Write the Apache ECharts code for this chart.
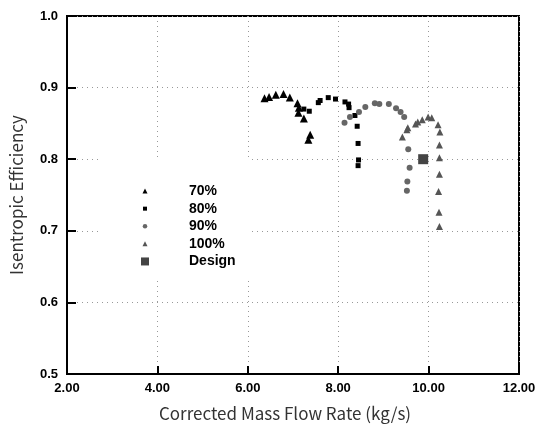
<!DOCTYPE html>
<html lang="en">

<head>
  <script src="https://cdn.jsdelivr.net/npm/echarts@6.0.0/dist/echarts.min.js"></script>
</head>

<body style="margin:0">
  <div id="efficiencyChart" style="width: 538px;height:427px;"></div>

  <script type="text/javascript">

    // speed lines
    var speed70X = [6.37, 6.47, 6.62, 6.79, 6.93, 7.10, 7.13, 7.12, 7.24, 7.38, 7.34];
    var speed70Y = [0.885, 0.887, 0.890, 0.891, 0.886, 0.878, 0.872, 0.865, 0.857, 0.834, 0.827];

    var speed80X = [7.24, 7.36, 7.56, 7.60, 7.78, 7.94, 8.15, 8.23, 8.24, 8.37, 8.42, 8.44, 8.45, 8.44];
    var speed80Y = [0.870, 0.867, 0.879, 0.882, 0.886, 0.884, 0.880, 0.877, 0.872, 0.861, 0.846, 0.822, 0.799, 0.791];

    var speed90X = [8.14, 8.26, 8.46, 8.60, 8.81, 8.91, 9.12, 9.28, 9.38, 9.46, 9.55, 9.58, 9.53, 9.52];
    var speed90Y = [0.851, 0.859, 0.866, 0.873, 0.878, 0.877, 0.877, 0.871, 0.866, 0.859, 0.814, 0.788, 0.769, 0.756];

    var speed100X = [9.42, 9.52, 9.54, 9.71, 9.76, 9.86, 9.99, 10.07, 10.21, 10.25, 10.24, 10.24, 10.24, 10.22, 10.23, 10.24];
    var speed100Y = [0.831, 0.841, 0.844, 0.849, 0.852, 0.855, 0.859, 0.858, 0.848, 0.838, 0.820, 0.802, 0.779, 0.755, 0.726, 0.706];

    var designX = [9.88];
    var designY = [0.800];

    var seriesNames = ['70%', '80%', '90%', '100%', 'Design'];

    function zipPoints(xs, ys) {
        var pts = [];
        for (var i = 0; i < xs.length; i++) {
            pts.push([xs[i], ys[i]]);
        }
        return pts;
    }

    function legendRow(name, icon, size, center) {
        return {
            data: [{ name: name, icon: icon }],
            selectedMode: false,
            orient: 'vertical',
            z: 10,
            left: 145 - size / 2,
            top: center - 7,
            padding: 0,
            itemWidth: size,
            itemHeight: size,
            textStyle: {
                fontFamily: 'Liberation Sans',
                fontWeight: 'bold',
                fontSize: 14,
                color: '#000',
                padding: [0, 0, 0, 189 - (145 + size / 2) - 5]
            }
        };
    }

    function createEfficiencyChart() {
        const chart = echarts.init(document.getElementById('efficiencyChart'));

        var labelFont = {
            fontFamily: 'Liberation Sans',
            fontWeight: 'bold',
            fontSize: 13,
            color: '#000'
        };
        var nameFont = {
            fontFamily: 'Noto Sans CJK KR',
            fontSize: 17,
            color: '#333'
        };

        var option = {
            animation: false,
            backgroundColor: '#fff',
            grid: {
                left: 67,
                right: 19,
                top: 16,
                bottom: 53,
                outerBoundsMode: 'none',
                containLabel: false,
                show: true,
                borderColor: '#000',
                borderWidth: 2
            },
            // white box behind the legend, hides the dotted grid there
            graphic: {
                z: 5,
                elements: [{
                    type: 'rect',
                    z: 5,
                    shape: { x: 100, y: 157, width: 149, height: 123 },
                    style: { fill: '#fff' }
                }]
            },
            legend: [
                legendRow('70%', 'triangle', 5, 186),
                legendRow('80%', 'rect', 4, 203.6),
                legendRow('90%', 'circle', 4.5, 221.2),
                legendRow('100%', 'triangle', 5, 238.8),
                legendRow('Design', 'rect', 8, 256.4)
            ],
            xAxis: {
                type: 'value',
                min: 2,
                max: 12,
                interval: 2,
                name: 'Corrected Mass Flow Rate (kg/s)',
                nameLocation: 'middle',
                nameGap: 25,
                nameMoveOverlap: false,
                nameTextStyle: Object.assign({ padding: [0, 16, 0, 0] }, nameFont),
                axisLine: { lineStyle: { color: '#000', width: 2 } },
                axisTick: { inside: true, length: 8, lineStyle: { color: '#000', width: 2 } },
                axisLabel: Object.assign({
                    margin: 3,
                    formatter: function (v) { return v.toFixed(2); }
                }, labelFont),
                splitLine: { lineStyle: { color: '#999', type: [1, 4], width: 1 } }
            },
            yAxis: {
                type: 'value',
                min: 0.5,
                max: 1.0,
                interval: 0.1,
                name: 'Isentropic Efficiency',
                nameLocation: 'middle',
                nameGap: 35,
                nameMoveOverlap: false,
                nameTextStyle: nameFont,
                axisLine: { show: true, lineStyle: { color: '#000', width: 2 } },
                axisTick: { show: true, inside: true, length: 9, lineStyle: { color: '#000', width: 2 } },
                axisLabel: Object.assign({
                    margin: 9,
                    formatter: function (v) { return v.toFixed(1); }
                }, labelFont),
                splitLine: { lineStyle: { color: '#999', type: [1, 4], width: 1 } }
            },
            series: [
                {
                    name: seriesNames[0],
                    type: 'scatter',
                    symbol: 'triangle',
                    symbolSize: 8,
                    itemStyle: { color: '#000', opacity: 1 },
                    data: zipPoints(speed70X, speed70Y)
                },
                {
                    name: seriesNames[1],
                    type: 'scatter',
                    symbol: 'rect',
                    symbolSize: 5,
                    itemStyle: { color: '#000', opacity: 1 },
                    data: zipPoints(speed80X, speed80Y)
                },
                {
                    name: seriesNames[2],
                    type: 'scatter',
                    symbol: 'circle',
                    symbolSize: 6,
                    itemStyle: { color: '#666', opacity: 1 },
                    data: zipPoints(speed90X, speed90Y)
                },
                {
                    name: seriesNames[3],
                    type: 'scatter',
                    symbol: 'triangle',
                    symbolSize: 7,
                    itemStyle: { color: '#555', opacity: 1 },
                    data: zipPoints(speed100X, speed100Y)
                },
                {
                    name: seriesNames[4],
                    type: 'scatter',
                    symbol: 'rect',
                    symbolSize: 10,
                    itemStyle: { color: '#444', opacity: 1 },
                    data: zipPoints(designX, designY)
                }
            ]
        };

        chart.setOption(option);
    }
    createEfficiencyChart();
  </script>
</body>

</html>
